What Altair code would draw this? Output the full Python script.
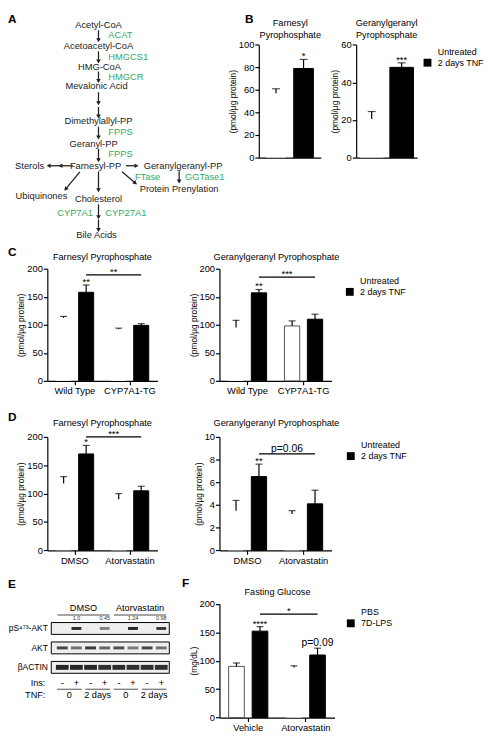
import altair as alt
import pandas as pd

W, H = 487, 730
M = 8
FONT = "Liberation Sans"
GREEN = "#35a866"
INK = "black"


def p(v):
    return v - M


# ---------------- A: pathway diagram (diagram units = reference pixels) ----------------
a_nodes = ["Acetyl-CoA", "Acetoacetyl-CoA", "HMG-CoA", "Mevalonic Acid", "Dimethylallyl-PP",
           "Geranyl-PP", "Farnesyl-PP", "Sterols", "Geranylgeranyl-PP", "Protein Prenylation",
           "Ubiquinones", "Cholesterol", "Bile Acids"]
a_node_x = [100, 100, 101, 98, 100, 95, 97, 30, 186, 182, 42, 100, 98]
a_node_y = [19, 40.7, 61.7, 81.7, 117.3, 140, 162.3, 162.3, 162.3, 186, 193.3, 196, 233]
a_enzymes = ["ACAT", "HMGCS1", "HMGCR", "FPPS", "FPPS", "FTase", "GGTase1", "CYP7A1", "CYP27A1"]
a_enz_x = [110, 110, 110, 110, 110, 137, 188, 58, 107]
a_enz_y = [29, 51.7, 71.7, 128.3, 150, 173.3, 173.3, 210, 210]
a_arrow_x1 = [100, 100, 100, 100, 100, 100, 100, 74, 128, 81, 100, 124, 182, 100, 100]
a_arrow_y1 = [24.5, 46, 66.5, 87.5, 102.5, 122.5, 145, 162.3, 162.3, 168.5, 168, 168.5, 168, 201.5, 217]
a_arrow_x2 = [100, 100, 100, 100, 100, 100, 100, 50, 138, 67, 100, 137, 182, 100, 100]
a_arrow_y2 = [34, 55.5, 75.5, 98, 111.5, 133, 156, 162.3, 162.3, 185.5, 186.5, 179.5, 177.5, 214, 227]
a_head_angle = [180, 180, 180, 180, 180, 180, 180, 270, 90, 217, 180, 130, 180, 180, 180]
a_extra_head = (62, 162.3, 270)

# ---------------- B ----------------
b_cats = ["BMDM"]
b_groups = ["Untreated", "2 days TNF"]
b_fpp = [[57], [79]]
b_fpp_sem = [[4], [8]]
b_fpp_star = [[""], ["*"]]
b_ggpp = [[20.5], [48]]
b_ggpp_sem = [[4], [2.4]]
b_ggpp_star = [[""], ["***"]]

# ---------------- C ----------------
c_cats = ["Wild Type", "CYP7A1-TG"]
c_fpp = [[112, 92], [158, 99]]
c_fpp_sem = [[3, 2], [13, 3]]
c_fpp_star = [["", ""], ["**", ""]]
c_ggpp = [[95, 98], [157, 110]]
c_ggpp_sem = [[13, 9], [6, 9]]
c_ggpp_star = [["", ""], ["**", ""]]

# ---------------- D ----------------
d_cats = ["DMSO", "Atorvastatin"]
d_fpp = [[118, 90], [170, 105]]
d_fpp_sem = [[12, 10], [15, 8]]
d_fpp_star = [["", ""], ["*", ""]]
d_ggpp = [[3.5, 3.2], [6.5, 4.1]]
d_ggpp_sem = [[0.9, 0.3], [1.1, 1.2]]
d_ggpp_star = [["", ""], ["**", ""]]

# ---------------- E ----------------
e_lanes = ["L1", "L2", "L3", "L4", "L5", "L6", "L7", "L8"]
e_proteins = ["pS\u2074\u2077\u00b3-AKT", "AKT", "\u03b2ACTIN"]
e_band_pakt = [0.0, 0.9, 0.0, 0.5, 0.0, 0.95, 0.0, 0.85]
e_band_akt = [0.8, 0.6, 0.85, 0.65, 0.75, 0.55, 0.8, 0.6]
e_band_actin = [0.95, 0.95, 0.95, 0.9, 0.92, 0.9, 0.9, 0.9]
e_ins = ["-", "+", "-", "+", "-", "+", "-", "+"]
e_tnf_ids = ["T1", "T2", "T3", "T4"]
e_tnf = ["0", "2 days", "0", "2 days"]
e_drugs = ["DMSO", "Atorvastatin"]
e_quant_lanes = ["L2", "L4", "L6", "L8"]
e_quant = ["1.0", "0.45", "1.24", "0.98"]

# ---------------- F ----------------
f_cats = ["Vehicle", "Atorvastatin"]
f_groups = ["PBS", "7D-LPS"]
f_glc = [[90, 88], [152, 110]]
f_glc_sem = [[6, 3], [8, 12]]
f_glc_star = [["", ""], ["****", ""]]
f_glc_p = [["", ""], ["", "p=0.09"]]


def label(text, x, y, size=9.3, weight="normal", align="center", color=INK):
    return alt.Chart(pd.DataFrame({"t": [text]})).mark_text(
        fontSize=size, fontWeight=weight, align=align, baseline="middle", color=color
    ).encode(x=alt.value(x), y=alt.value(y), text="t:N")


def bar_panel(cats, groups, means, sems, stars, outlined, xr, yr, ymax, yticks, ytitle,
              pi, po, cap, xlabels=True, legend=None, sig=None, ptexts=None):
    rows = []
    for i, c in enumerate(cats):
        for j, g in enumerate(groups):
            m, s = means[j][i], sems[j][i]
            if (c, g) in outlined:
                edge = "#555555"
            elif j == 1:
                edge = "black"
            else:
                edge = "transparent"
            rows.append({"cat": c, "grp": g, "mean": m, "top": m + s,
                         "star": stars[j][i],
                         "ptxt": (ptexts[j][i] if ptexts else ""),
                         "edge": edge})
    df = pd.DataFrame(rows)
    step = (xr[1] - xr[0]) / len(cats)

    xs = alt.Scale(domain=cats, range=xr, paddingInner=0, paddingOuter=0)
    xa = alt.Axis(orient="bottom", offset=yr[0] - H, title=None, labelAngle=0,
                  labels=xlabels, ticks=xlabels)
    ys = alt.Scale(domain=[0, ymax], range=yr, nice=False, zero=True)
    ya = alt.Axis(orient="left", offset=-xr[0], values=yticks, title=ytitle)
    X = alt.X("cat:N", scale=xs, axis=xa, sort=cats)
    XO = alt.XOffset("grp:N", sort=groups,
                     scale=alt.Scale(domain=groups, paddingInner=pi, paddingOuter=po))
    base = alt.Chart(df)
    layers = [
        base.mark_bar(strokeWidth=1).encode(
            x=X, xOffset=XO, y=alt.Y("mean:Q", scale=ys, axis=ya),
            fill=alt.Fill("grp:N", sort=groups,
                          scale=alt.Scale(domain=groups, range=["white", "black"]),
                          legend=legend),
            stroke=alt.Stroke("edge:N", scale=None)),
        base.mark_rule(color=INK, strokeWidth=1.2).encode(
            x=X, xOffset=XO, y=alt.Y("mean:Q", scale=ys, axis=ya), y2="top:Q"),
        base.mark_tick(orient="horizontal", size=cap, thickness=1.2, color=INK).encode(
            x=X, xOffset=XO, y=alt.Y("top:Q", scale=ys, axis=ya)),
        base.mark_text(fontSize=9.5, baseline="alphabetic", dy=0, color=INK).encode(
            x=X, xOffset=XO, y=alt.Y("top:Q", scale=ys, axis=ya), text="star:N"),
    ]
    if ptexts:
        layers.append(base.mark_text(fontSize=10.5, baseline="alphabetic", dy=-2.5, color=INK).encode(
            x=X, xOffset=XO, y=alt.Y("top:Q", scale=ys, axis=ya), text="ptxt:N"))
    if sig:
        sdf = pd.DataFrame({"cat": cats, "grp": [groups[1]] * len(cats),
                            "yv": [sig[0]] * len(cats), "lab": [sig[1]] + [""] * (len(cats) - 1)})
        sb = alt.Chart(sdf)
        layers.append(sb.mark_line(color=INK, strokeWidth=1.2).encode(
            x=X, xOffset=XO, y=alt.Y("yv:Q", scale=ys, axis=ya)))
        is_p = sig[1].startswith("p")
        layers.append(sb.mark_text(fontSize=10.5 if is_p else 9.5, baseline="alphabetic",
                                   dx=step / 2, dy=-2 if is_p else 0, color=INK).encode(
            x=X, xOffset=XO, y=alt.Y("yv:Q", scale=ys, axis=ya), text="lab:N"))
    return alt.layer(*layers)


def leg(x, y):
    return alt.Legend(orient="none", legendX=x, legendY=y, title=None)


PMOL = "(pmol/\u00b5g protein)"

B1 = bar_panel(b_cats, b_groups, b_fpp, b_fpp_sem, b_fpp_star, [], [p(263), p(326)],
               [p(154), p(39.3)], 100, [0, 20, 40, 60, 80, 100], PMOL, 0.286, 0.268, 8,
               xlabels=False, legend=None)
B2 = bar_panel(b_cats, b_groups, b_ggpp, b_ggpp_sem, b_ggpp_star, [], [p(362), p(424)],
               [p(154), p(39.3)], 60, [0, 20, 40, 60], PMOL, 0.213, 0.123, 8,
               xlabels=False, legend=leg(p(430), p(42)))
C1 = bar_panel(c_cats, b_groups, c_fpp, c_fpp_sem, c_fpp_star, [], [p(48), p(160)],
               [p(381), p(267)], 200, [0, 50, 100, 150, 200], PMOL, 0.333, 0.39, 7,
               sig=(189, "**"))
C2 = bar_panel(c_cats, b_groups, c_ggpp, c_ggpp_sem, c_ggpp_star, [("CYP7A1-TG", "Untreated")],
               [p(223), p(337)], [p(381), p(267)], 200, [0, 50, 100, 150, 200], PMOL, 0.333, 0.39, 7,
               legend=leg(p(351), p(275)), sig=(185, "***"))
D1 = bar_panel(d_cats, b_groups, d_fpp, d_fpp_sem, d_fpp_star, [], [p(48), p(160)],
               [p(553.3), p(438)], 200, [0, 50, 100, 150, 200], PMOL, 0.333, 0.39, 7,
               sig=(200, "***"))
D2 = bar_panel(d_cats, b_groups, d_ggpp, d_ggpp_sem, d_ggpp_star, [], [p(223), p(337)],
               [p(553.3), p(438)], 10, [0, 2, 4, 6, 8, 10], PMOL, 0.333, 0.39, 7,
               legend=leg(p(352), p(442)), sig=(8.5, "p=0.06"))
F = bar_panel(f_cats, f_groups, f_glc, f_glc_sem, f_glc_star, [("Vehicle", "PBS")],
              [p(223), p(340)], [p(723.3), p(607.7)], 200, [0, 50, 100, 150, 200], "(mg/dL)",
              0.333, 0.39, 7, legend=leg(p(352), p(612)), sig=(182, "*"), ptexts=f_glc_p)

# ---------------- A layers ----------------
ax = alt.Scale(domain=[0, 495], range=[p(0), p(495)], nice=False, zero=False)
ay = alt.Scale(domain=[0, 738], range=[p(0), p(738)], nice=False, zero=False)
nodes_df = pd.DataFrame({"t": a_nodes, "x": a_node_x, "y": a_node_y})
enz_df = pd.DataFrame({"t": a_enzymes, "x": a_enz_x, "y": a_enz_y})
arr_df = pd.DataFrame({"x1": a_arrow_x1, "y1": a_arrow_y1, "x2": a_arrow_x2, "y2": a_arrow_y2})
head_df = pd.DataFrame({"x": a_arrow_x2 + [a_extra_head[0]], "y": a_arrow_y2 + [a_extra_head[1]],
                        "ang": a_head_angle + [a_extra_head[2]]})
A = alt.layer(
    alt.Chart(arr_df).mark_rule(color="#222222", strokeWidth=1.3).encode(
        x=alt.X("x1:Q", scale=ax, axis=None), y=alt.Y("y1:Q", scale=ay, axis=None),
        x2="x2:Q", y2="y2:Q"),
    alt.Chart(head_df).mark_point(shape="triangle", filled=True, size=22, color="#222222", opacity=1).encode(
        x=alt.X("x:Q", scale=ax, axis=None), y=alt.Y("y:Q", scale=ay, axis=None),
        angle=alt.Angle("ang:Q", scale=None)),
    alt.Chart(nodes_df).mark_text(fontSize=9.5, align="center", baseline="middle", color="#222222").encode(
        x=alt.X("x:Q", scale=ax, axis=None), y=alt.Y("y:Q", scale=ay, axis=None), text="t:N"),
    alt.Chart(enz_df).mark_text(fontSize=9.5, align="left", baseline="middle", color=GREEN).encode(
        x=alt.X("x:Q", scale=ax, axis=None), y=alt.Y("y:Q", scale=ay, axis=None), text="t:N"),
)

# ---------------- E layers ----------------
lane_scale = alt.Scale(domain=e_lanes, range=[p(56), p(171)], paddingInner=0, paddingOuter=0)
prot_scale = alt.Scale(domain=e_proteins, range=[p(626.7), p(678.3)], paddingInner=0.39, paddingOuter=0)
prot_axis = alt.Axis(orient="left", offset=-p(52), domain=False, ticks=False, tickSize=0,
                     labelPadding=4, title=None, labelFontSize=8.6)
XL = alt.X("lane:N", scale=lane_scale, axis=None, sort=e_lanes)
YP = alt.Y("prot:N", scale=prot_scale, axis=prot_axis, sort=e_proteins)
band_rows = []
for prot, vals in zip(e_proteins, [e_band_pakt, e_band_akt, e_band_actin]):
    for ln, v in zip(e_lanes, vals):
        band_rows.append({"prot": prot, "lane": ln, "v": v})
bands_df = pd.DataFrame(band_rows)
band_shape = {e_proteins[0]: (10, 3), e_proteins[1]: (11, 3), e_proteins[2]: (13, 5)}
e_layers = [
    alt.Chart(pd.DataFrame({"prot": e_proteins})).mark_rect(fill="#eeeeee", stroke=INK, strokeWidth=1).encode(
        y=YP, x=alt.value(p(52)), x2=alt.value(p(172))),
]
for prot in e_proteins:
    sz, th = band_shape[prot]
    e_layers.append(
        alt.Chart(bands_df[bands_df.prot == prot]).mark_tick(
            orient="horizontal", size=sz, thickness=th, color="#1a1a1a").encode(
            x=XL, y=YP, opacity=alt.Opacity("v:Q", scale=None)))
e_layers += [
    alt.Chart(pd.DataFrame({"lane": e_lanes, "s": e_ins})).mark_text(fontSize=10, color=INK).encode(
        x=XL, y=alt.value(p(688.3)), text="s:N"),
    alt.Chart(pd.DataFrame({"lane": e_quant_lanes, "s": e_quant})).mark_text(fontSize=5.5, color="#333333").encode(
        x=XL, y=alt.value(p(622.5)), text="s:N"),
    alt.Chart(pd.DataFrame({"g": e_tnf_ids, "s": e_tnf})).mark_text(fontSize=9.3, color=INK).encode(
        x=alt.X("g:N", scale=alt.Scale(domain=e_tnf_ids, range=[p(56), p(171)]), axis=None, sort=e_tnf_ids),
        y=alt.value(p(700.5)), text="s:N"),
    alt.Chart(pd.DataFrame({"g": e_tnf_ids})).mark_tick(orient="horizontal", size=25, thickness=1, color=INK).encode(
        x=alt.X("g:N", scale=alt.Scale(domain=e_tnf_ids, range=[p(56), p(171)]), axis=None, sort=e_tnf_ids),
        y=alt.value(p(694.5))),
    alt.Chart(pd.DataFrame({"d": e_drugs})).mark_text(fontSize=9.3, color=INK).encode(
        x=alt.X("d:N", scale=alt.Scale(domain=e_drugs, range=[p(56), p(171)]), axis=None, sort=e_drugs),
        y=alt.value(p(611.7)), text="d:N"),
    alt.Chart(pd.DataFrame({"d": e_drugs})).mark_tick(orient="horizontal", size=53, thickness=1, color=INK).encode(
        x=alt.X("d:N", scale=alt.Scale(domain=e_drugs, range=[p(56), p(171)]), axis=None, sort=e_drugs),
        y=alt.value(p(619))),
]
E = alt.layer(*e_layers).resolve_scale(x="independent")

# ---------------- titles / letters ----------------
texts = [
    label("A", 0, 5, size=12, weight="bold", align="left"),
    label("B", p(249), 5, size=12, weight="bold", align="left"),
    label("C", 0, p(250), size=12, weight="bold", align="left"),
    label("D", 0, p(418), size=12, weight="bold", align="left"),
    label("E", 0, p(588), size=12, weight="bold", align="left"),
    label("F", p(185), p(587), size=12, weight="bold", align="left"),
    label("Farnesyl", p(295), p(17)),
    label("Pyrophosphate", p(295), p(29)),
    label("Geranylgeranyl", p(393), p(17)),
    label("Pyrophosphate", p(393), p(29)),
    label("Farnesyl Pyrophosphate", p(104), p(255)),
    label("Geranylgeranyl Pyrophosphate", p(281), p(255)),
    label("Farnesyl Pyrophosphate", p(104), p(424)),
    label("Geranylgeranyl Pyrophosphate", p(281), p(424)),
    label("Fasting Glucose", p(282), p(596)),
    label("Ins:", p(46), p(688.3), align="right"),
    label("TNF:", p(46), p(700.5), align="right"),
]

chart = alt.layer(A, B1, B2, C1, C2, D1, D2, E, F, *texts).resolve_scale(
    x="independent", y="independent", xOffset="independent", fill="independent"
).properties(
    width=W, height=H, padding=0, autosize=alt.AutoSizeParams(type="none")
).configure(font=FONT).configure_view(stroke=None).configure_axis(
    domainColor=INK, domainWidth=1.2, tickColor=INK, tickWidth=1.2, tickSize=4,
    labelFontSize=9.5, labelColor=INK, titleFontSize=8.5, titleFontWeight="normal",
    titleColor=INK, grid=False, labelPadding=1, titlePadding=1, zindex=1,
    labelFlush=False, labelOverlap=False, labelFont=FONT, titleFont=FONT
).configure_legend(
    labelFontSize=9, labelFont=FONT, labelColor=INK, symbolSize=64, symbolType="square",
    rowPadding=1, labelOffset=6, symbolStrokeWidth=0, padding=0
)

chart.save("out.html", embed_options={"renderer": "svg", "actions": False})
